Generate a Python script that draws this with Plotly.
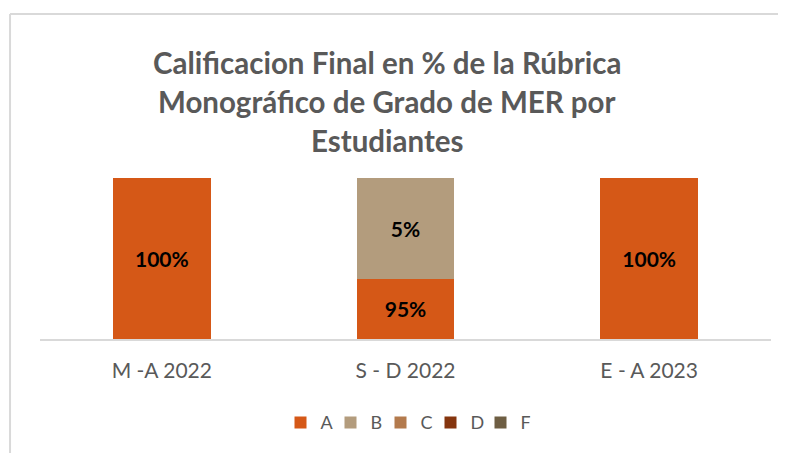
import plotly.graph_objects as go

categories = ["M -A 2022", "S - D 2022", "E - A 2023"]
series_names = ["A", "B", "C", "D", "F"]
# bar heights as drawn in the reference (stack proportions)
values_A = [100, 37.5, 100]
values_B = [0, 62.5, 0]
values_C = [0, 0, 0]
values_D = [0, 0, 0]
values_F = [0, 0, 0]
labels_A = ["100%", "95%", "100%"]
labels_B = ["", "5%", ""]
labels_other = ["", "", ""]
title_lines = ["Calificacion Final en % de la Rúbrica",
               "Monográfico de Grado de MER por",
               "Estudiantes"]

colors = ["#D55817", "#B39C7D", "#B37A4D", "#85350E", "#6E5E43"]
all_values = [values_A, values_B, values_C, values_D, values_F]
all_labels = [labels_A, labels_B, labels_other, labels_other, labels_other]

FONT = "Lato"
fig = go.Figure()
for name, vals, labs, col in zip(series_names, all_values, all_labels, colors):
    fig.add_trace(go.Bar(
        x=categories, y=vals, name=name, marker=dict(color=col, line=dict(width=0)),
        text=labs, textposition="inside", insidetextanchor="middle", textangle=0,
        constraintext="none",
        textfont=dict(family=FONT, size=21, color="#000000", weight="bold"),
        width=0.4,
    ))

fig.update_layout(
    barmode="stack",
    width=786, height=453,
    margin=dict(l=32, r=23, t=170, b=122),
    paper_bgcolor="white", plot_bgcolor="white",
    showlegend=True,
    legend=dict(orientation="h", x=0.5, xanchor="center", y=-0.52, yanchor="middle",
                font=dict(family=FONT, size=18, color="#595959"),
                itemwidth=30, entrywidth=5, traceorder="normal"),
    xaxis=dict(showline=True, linecolor="#D9D9D9", linewidth=2, showgrid=False,
               tickfont=dict(family=FONT, size=21, color="#595959"),
               ticks="", ticklabelstandoff=12),
    yaxis=dict(visible=False, range=[0, 100]),
)

ys = [1.72, 1.478, 1.236]
for line, yy in zip(title_lines, ys):
    fig.add_annotation(text=line, x=0.475, y=yy, xref="paper", yref="paper",
                       showarrow=False, xanchor="center", yanchor="middle",
                       font=dict(family=FONT, size=29.5, color="#595959", weight="bold"))

# chart frame (left and top edges visible in the reference)
fig.add_shape(type="line", xref="paper", yref="paper",
              x0=-0.041, x1=-0.041, y0=-0.75, y1=2.019,
              line=dict(color="#D9D9D9", width=2), layer="below")
fig.add_shape(type="line", xref="paper", yref="paper",
              x0=-0.041, x1=1.02, y0=2.019, y1=2.019,
              line=dict(color="#D9D9D9", width=2), layer="below")

fig.write_html("out.html")
